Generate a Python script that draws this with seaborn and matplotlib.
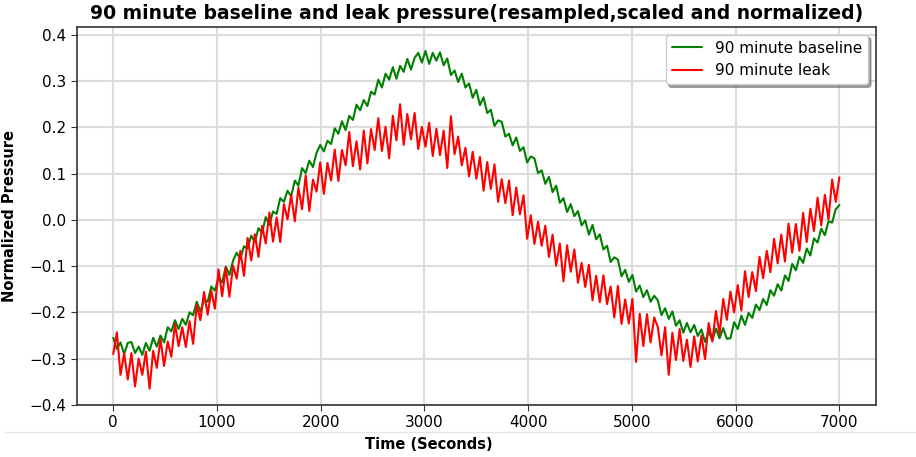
import numpy as np
import pandas as pd
import matplotlib
matplotlib.use("Agg")
import matplotlib.pyplot as plt
import seaborn as sns
from matplotlib.lines import Line2D

# time axis (seconds), one sample every 35 s
time_s = list(range(0, 7001, 35))

baseline = [
    -0.255, -0.279, -0.265, -0.290, -0.266, -0.264, -0.288, -0.274, -0.292, -0.266,
    -0.283, -0.255, -0.274, -0.250, -0.265, -0.232, -0.241, -0.217, -0.236, -0.214,
    -0.227, -0.200, -0.206, -0.177, -0.198, -0.173, -0.177, -0.144, -0.153, -0.125,
    -0.135, -0.101, -0.119, -0.088, -0.071, -0.085, -0.057, -0.062, -0.034, -0.048,
    -0.018, -0.028, 0.006, -0.011, 0.018, 0.013, 0.047, 0.039, 0.063, 0.051,
    0.085, 0.074, 0.112, 0.101, 0.128, 0.114, 0.145, 0.162, 0.148, 0.171,
    0.164, 0.198, 0.186, 0.213, 0.194, 0.225, 0.216, 0.249, 0.237, 0.259,
    0.246, 0.277, 0.271, 0.303, 0.286, 0.316, 0.303, 0.330, 0.305, 0.333,
    0.320, 0.348, 0.325, 0.350, 0.361, 0.340, 0.365, 0.337, 0.361, 0.344,
    0.362, 0.334, 0.349, 0.313, 0.323, 0.298, 0.316, 0.286, 0.295, 0.264,
    0.281, 0.248, 0.265, 0.231, 0.238, 0.203, 0.215, 0.212, 0.180, 0.186,
    0.161, 0.178, 0.149, 0.157, 0.124, 0.137, 0.133, 0.101, 0.107, 0.078,
    0.093, 0.060, 0.074, 0.037, 0.047, 0.017, 0.034, 0.008, 0.019, -0.012,
    -0.001, -0.032, -0.011, -0.042, -0.031, -0.064, -0.056, -0.091, -0.081, -0.086,
    -0.122, -0.108, -0.134, -0.119, -0.155, -0.142, -0.167, -0.152, -0.177, -0.164,
    -0.174, -0.206, -0.191, -0.214, -0.198, -0.229, -0.217, -0.244, -0.223, -0.243,
    -0.227, -0.251, -0.237, -0.264, -0.241, -0.261, -0.235, -0.256, -0.234, -0.257,
    -0.256, -0.221, -0.236, -0.207, -0.227, -0.201, -0.212, -0.183, -0.195, -0.171,
    -0.184, -0.152, -0.164, -0.139, -0.153, -0.120, -0.132, -0.095, -0.109, -0.080,
    -0.093, -0.062, -0.077, -0.040, -0.049, -0.019, -0.033, -0.003, -0.006, 0.023,
    0.032,
]

leak = [
    -0.290, -0.243, -0.335, -0.288, -0.345, -0.288, -0.360, -0.300, -0.335, -0.285,
    -0.365, -0.283, -0.320, -0.258, -0.316, -0.263, -0.296, -0.225, -0.273, -0.232,
    -0.275, -0.219, -0.268, -0.184, -0.217, -0.156, -0.205, -0.153, -0.192, -0.107,
    -0.165, -0.103, -0.166, -0.099, -0.127, -0.067, -0.121, -0.039, -0.088, -0.031,
    -0.080, -0.013, -0.051, 0.016, -0.047, 0.005, -0.048, 0.034, 0.001, 0.054,
    -0.003, 0.070, 0.023, 0.096, 0.019, 0.087, 0.061, 0.124, 0.056, 0.123,
    0.085, 0.152, 0.084, 0.151, 0.118, 0.190, 0.116, 0.170, 0.109, 0.193,
    0.122, 0.196, 0.151, 0.220, 0.149, 0.201, 0.133, 0.225, 0.172, 0.250,
    0.162, 0.229, 0.174, 0.231, 0.153, 0.201, 0.158, 0.210, 0.138, 0.197,
    0.140, 0.193, 0.112, 0.224, 0.142, 0.180, 0.118, 0.156, 0.094, 0.147,
    0.089, 0.136, 0.063, 0.125, 0.067, 0.120, 0.039, 0.088, 0.036, 0.085,
    0.010, 0.070, 0.012, 0.053, -0.041, 0.010, -0.052, -0.004, -0.056, -0.013,
    -0.080, -0.032, -0.099, -0.051, -0.133, -0.055, -0.112, -0.064, -0.136, -0.093,
    -0.145, -0.097, -0.174, -0.121, -0.178, -0.120, -0.182, -0.144, -0.211, -0.143,
    -0.225, -0.172, -0.224, -0.171, -0.307, -0.203, -0.273, -0.204, -0.265, -0.211,
    -0.232, -0.293, -0.232, -0.335, -0.244, -0.303, -0.236, -0.305, -0.259, -0.318,
    -0.252, -0.306, -0.250, -0.301, -0.223, -0.263, -0.197, -0.247, -0.171, -0.216,
    -0.155, -0.200, -0.141, -0.196, -0.111, -0.167, -0.113, -0.154, -0.080, -0.126,
    -0.067, -0.113, -0.041, -0.094, -0.032, -0.090, -0.008, -0.071, -0.009, -0.067,
    0.015, -0.048, 0.024, -0.024, 0.048, -0.012, 0.054, 0.001, 0.087, 0.039,
    0.092,
]

series_names = ["90 minute baseline", "90 minute leak"]
x_ticks = [0, 1000, 2000, 3000, 4000, 5000, 6000, 7000]
y_ticks = [-0.4, -0.3, -0.2, -0.1, 0.0, 0.1, 0.2, 0.3, 0.4]

df = pd.DataFrame({"time": time_s, "baseline": baseline, "leak": leak})

sns.set_style("white")
plt.rcParams["font.family"] = ["DejaVu Sans"]
plt.rcParams["text.color"] = "black"
plt.rcParams["axes.labelcolor"] = "black"
plt.rcParams["xtick.color"] = "black"
plt.rcParams["ytick.color"] = "black"

fig = plt.figure(figsize=(9.16, 4.57), dpi=100)
ax = fig.add_axes([0.084, 0.114, 0.872, 0.827])

sns.lineplot(data=df, x="time", y="baseline", color="green", linewidth=1.5,
             label=series_names[0], ax=ax)
sns.lineplot(data=df, x="time", y="leak", color="red", linewidth=1.5,
             label=series_names[1], ax=ax)

ax.set_xlim(-350, 7350)
ax.set_ylim(-0.4, 0.417)
ax.set_xticks(x_ticks)
ax.set_yticks(y_ticks)
ax.set_yticklabels([f"{v:.1f}".replace("-", "\u2212") for v in y_ticks])
ax.tick_params(axis="both", labelsize=11, length=4, color="#333333", direction="out",
               left=True, bottom=True, labelcolor="black")
ax.grid(True, color="#dcdcdc", linewidth=1.5)
ax.set_axisbelow(True)
for s in ax.spines.values():
    s.set_color("#333333")
    s.set_linewidth(1.2)

ax.set_xlabel("Time (Seconds)", fontsize=10.5, fontweight="bold", labelpad=2,
              color="black")
ax.xaxis.set_label_coords(0.44, -0.085)
ax.set_ylabel("Normalized Pressure", fontsize=10.5, fontweight="bold", color="black")
ax.yaxis.set_label_coords(-0.075, 0.5)
ax.set_title("90 minute baseline and leak pressure(resampled,scaled and normalized)",
             fontsize=13.5, fontweight="bold", pad=6, color="black")

leg = ax.legend(loc="upper right", fontsize=11, shadow=True, fancybox=True,
                framealpha=1, borderaxespad=0.5)
for t in leg.get_texts():
    t.set_color("black")

fig.add_artist(Line2D([0.005, 1.0], [0.055, 0.055], color="#e6e6e6", linewidth=1,
                      transform=fig.transFigure))

fig.savefig("out.png", dpi=100)
